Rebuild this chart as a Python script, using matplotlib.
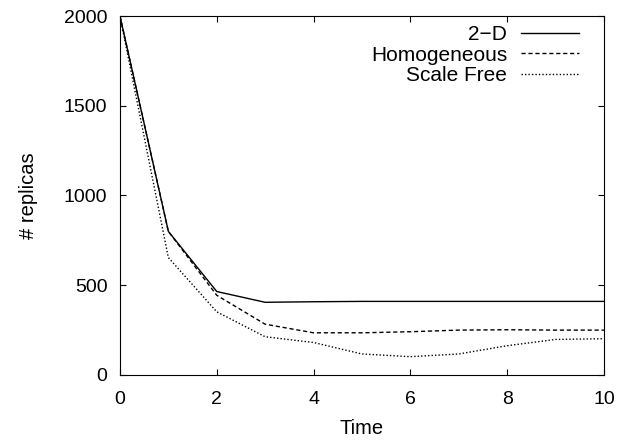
import matplotlib
matplotlib.use("Agg")
import matplotlib.pyplot as plt

plt.rcParams['font.family'] = ['Liberation Sans', 'DejaVu Sans']

# data
time = [0, 1, 2, 3, 4, 5, 6, 7, 8, 9, 10]
two_d = [2000, 800, 465, 405, 408, 410, 410, 410, 410, 410, 410]
homogeneous = [2000, 800, 444, 283, 235, 235, 241, 250, 252, 250, 250]
scale_free = [2000, 654, 352, 213, 181, 117, 102, 117, 163, 198, 202]

fig = plt.figure(figsize=(6.2, 4.41), dpi=100)
ax = fig.add_axes([0.1935, 0.1497, 0.7805, 0.814])

ax.plot(time, two_d, color='black', lw=1.0, label='2\u2212D')
ax.plot(time, homogeneous, color='black', lw=1.0, linestyle=(0, (3, 2)), label='Homogeneous')
ax.plot(time, scale_free, color='black', lw=1.0, linestyle=(0, (1, 1.5)), label='Scale Free')

ax.set_xlim(0, 10)
ax.set_ylim(0, 2000)
ax.set_xticks([0, 2, 4, 6, 8, 10])
ax.set_yticks([0, 500, 1000, 1500, 2000])
ax.tick_params(direction='in', top=True, right=True, length=4.3, labelsize=14)
ax.tick_params(axis='x', pad=11.5)
ax.tick_params(axis='y', pad=9)
ax.set_xlabel('Time', fontsize=14.5, labelpad=8)
ax.set_ylabel('# replicas', fontsize=14.5, labelpad=18.5)

ax.legend(loc='upper right', bbox_to_anchor=(0.948, 0.975), frameon=False,
          markerfirst=False, fontsize=15, handlelength=2.75, handletextpad=0.68,
          labelspacing=0.08, borderpad=0, borderaxespad=0)

fig.savefig('out.png', dpi=100)
